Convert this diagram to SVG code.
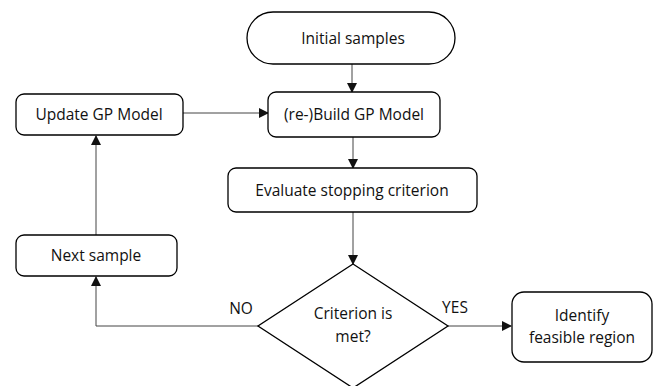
<svg xmlns="http://www.w3.org/2000/svg" width="659" height="386" viewBox="0 0 659 386">
<defs>
<style>
.n{fill:#fff;stroke:#000;stroke-width:1.3}
.t{font-family:"Open Sans","Noto Sans",sans-serif;font-size:15.5px;fill:#111;text-anchor:middle}
.c{fill:none;stroke:#444;stroke-width:1}
</style>
<marker id="a" markerWidth="10" markerHeight="10" refX="9" refY="5" orient="auto" markerUnits="userSpaceOnUse">
<path d="M0,0 L10,5 L0,10 Z" fill="#111"/>
</marker>
</defs>
<rect width="659" height="386" fill="#fff"/>
<g id="connectors">
<path class="c" d="M352,64 V92" marker-end="url(#a)"/>
<path class="c" d="M183,113 H268" marker-end="url(#a)"/>
<path class="c" d="M353,137 V168" marker-end="url(#a)"/>
<path class="c" d="M96,235 V136" marker-end="url(#a)"/>
<path class="c" d="M353,212 V264" marker-end="url(#a)"/>
<path class="c" d="M258,326 H96 V277" marker-end="url(#a)"/>
<path class="c" d="M448,326 H511" marker-end="url(#a)"/>
<text class="t" x="241" y="314">NO</text>
<text class="t" x="455" y="313">YES</text>
</g>
<g id="initial">
<rect class="n" x="247" y="12" width="208" height="52" rx="26"/>
<text class="t" x="353" y="44">Initial samples</text>
</g>
<g id="build">
<rect class="n" x="268" y="92" width="172" height="45" rx="8"/>
<text class="t" x="354" y="120">(re-)Build GP Model</text>
</g>
<g id="update">
<rect class="n" x="16" y="94" width="167" height="41" rx="8"/>
<text class="t" x="99" y="120">Update GP Model</text>
</g>
<g id="evaluate">
<rect class="n" x="228" y="168" width="249" height="44" rx="8"/>
<text class="t" x="352" y="196">Evaluate stopping criterion</text>
</g>
<g id="next">
<rect class="n" x="16" y="235" width="161" height="41" rx="8"/>
<text class="t" x="96" y="261">Next sample</text>
</g>
<g id="decision">
<path class="n" d="M353,264 L448,326 L353,388 L258,326 Z"/>
<text class="t" x="353" y="319">Criterion is</text>
<text class="t" x="353" y="342">met?</text>
</g>
<g id="identify">
<rect class="n" x="512" y="292" width="140" height="70" rx="12"/>
<text class="t" x="582" y="321">Identify</text>
<text class="t" x="582" y="343">feasible region</text>
</g>
</svg>
